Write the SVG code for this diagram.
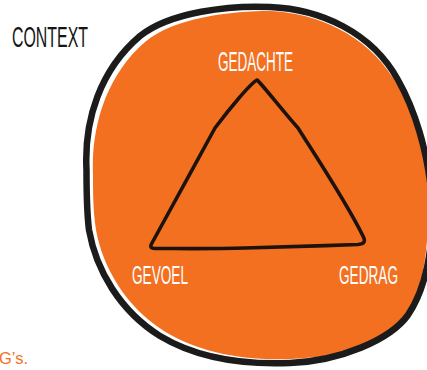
<svg xmlns="http://www.w3.org/2000/svg" width="427" height="370" viewBox="0 0 427 370">
<style>
.lbl{font-family:"Liberation Sans",Arial,sans-serif;fill:#ffffff;}
.ctx{font-family:"Liberation Sans",Arial,sans-serif;fill:#151515;}
.note{font-family:"Liberation Sans",Arial,sans-serif;fill:#f37021;}
.outline{fill:none;stroke:#1b1b1b;stroke-width:6.5;stroke-linejoin:round;}
.tri{fill:none;stroke:#1e130c;stroke-width:3.6;stroke-linejoin:round;stroke-linecap:round;}
</style>
<rect width="427" height="370" fill="#ffffff"/>
<g id="context-blob">
<path fill="#f37021" d="M 93,175 C 91,125 107,75 145,42 C 175,17 232,11 270,11 C 318,13 366,35 393,78 C 413,108 427,150 428,200 C 429,258 421,298 401,323 C 381,346 338,357 290,359 C 242,361 198,352 164,331 C 126,307 103,268 96,230 C 93,210 93,192 93,175 Z"/>
<path class="outline" d="M 86.5,170 C 84,120 100,70 140,36 C 170,12 230,5 270,7 C 320,9 372,32 398,80 C 414,108 428,150 432,200 C 434,250 425,290 408,315 C 390,340 340,361 290,363 C 240,365 195,357 160,336 C 120,311 96,270 89,230 C 86.5,210 86.5,190 86.5,170 Z"/>
</g>
<g id="connectors">
<path class="tri" d="M 257,80 C 262,84 282,110 298,128 C 315,155 345,200 363,236 C 366,242 364,244 358,244.5 C 320,246 280,247 245,248 C 210,249 180,248.5 155,248.5 C 150,248.5 150,246 152,243 C 170,210 195,165 215,128 C 230,108 250,84 257,80 Z"/>
</g>
<g id="node-context"><text class="ctx" x="12" y="47" font-size="29" textLength="76" lengthAdjust="spacingAndGlyphs">CONTEXT</text></g>
<g id="node-gedachte"><text class="lbl" x="218" y="71" font-size="28" textLength="75" lengthAdjust="spacingAndGlyphs">GEDACHTE</text></g>
<g id="node-gevoel"><text class="lbl" x="132" y="284" font-size="26" textLength="56" lengthAdjust="spacingAndGlyphs">GEVOEL</text></g>
<g id="node-gedrag"><text class="lbl" x="339" y="284" font-size="26" textLength="59" lengthAdjust="spacingAndGlyphs">GEDRAG</text></g>
<g id="note"><text class="note" x="-1" y="364" font-size="17" textLength="29" lengthAdjust="spacingAndGlyphs">G’s.</text></g>
</svg>
